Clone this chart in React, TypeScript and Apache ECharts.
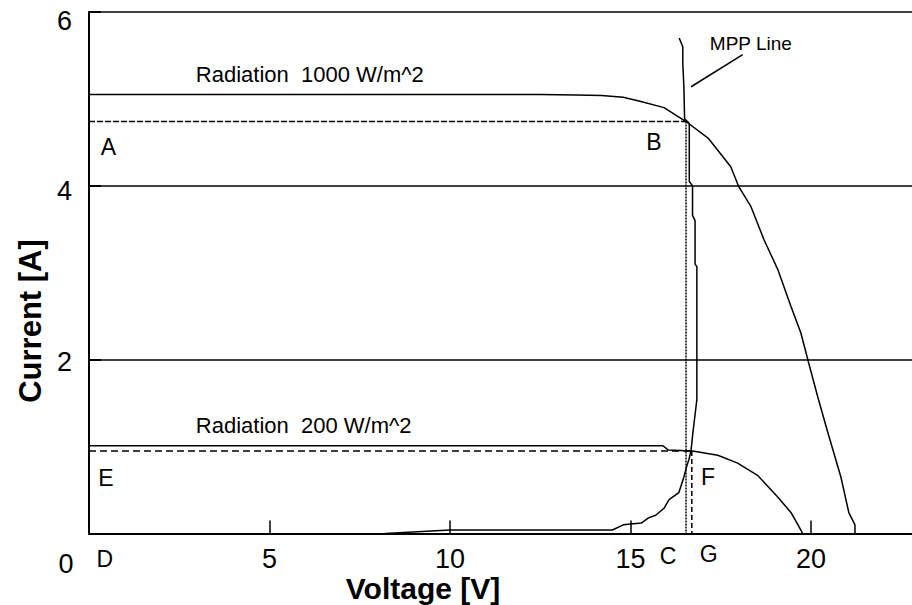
import React, { useEffect, useRef } from "react";
import * as echarts from "echarts";

// I-V curve at 1000 W/m^2
const V1000 = [0, 12.5, 13.5, 14.2, 14.8, 15.29, 15.93, 16.54, 17.15, 17.78, 18.0, 18.34, 18.7, 19.09, 19.45, 19.72, 19.92, 20.19, 20.47, 20.83, 21.05, 21.22, 21.22];
const I1000 = [5.05, 5.05, 5.045, 5.04, 5.02, 4.97, 4.9, 4.74, 4.55, 4.22, 3.99, 3.76, 3.38, 3.03, 2.61, 2.31, 1.99, 1.57, 1.16, 0.65, 0.24, 0.1, 0];

// I-V curve at 200 W/m^2
const V200 = [0, 15.9, 16.05, 16.72, 17.42, 17.97, 18.52, 19.08, 19.45, 19.68, 19.77];
const I200 = [1.01, 1.01, 0.96, 0.95, 0.9, 0.81, 0.67, 0.42, 0.24, 0.07, 0];

// MPP line
const VMPP = [8.2, 10.0, 14.5, 14.8, 15.3, 15.5, 15.7, 15.93, 16.07, 16.34, 16.48, 16.57, 16.62, 16.68, 16.73, 16.84, 16.84, 16.79, 16.79, 16.72, 16.72, 16.63, 16.63, 16.5, 16.48, 16.45, 16.45, 16.35];
const IMPP = [0, 0.04, 0.04, 0.1, 0.12, 0.18, 0.21, 0.29, 0.39, 0.47, 0.65, 0.79, 0.85, 0.96, 1.16, 1.54, 3.07, 3.1, 3.6, 3.66, 4.0, 4.05, 4.72, 4.77, 5.14, 5.41, 5.6, 5.7];

// Operating points
const POINT_B = [16.54, 4.74];
const POINT_F = [16.7, 0.95];

// Leader line for the MPP label
const LEADER_V = [16.68, 18.11];
const LEADER_I = [5.14, 5.51];

// Axis settings
const X_MAX = 22.8;
const Y_MAX = 6;

// Annotation texts (data coordinates)
const LETTERS = ["A", "B", "E", "F", "D", "C", "G", "0"];
const LETTER_V = [0.54, 15.65, 0.47, 17.15, 0.44, 16.04, 17.17, -0.64];
const LETTER_I = [4.45, 4.5, 0.64, 0.65, -0.29, -0.26, -0.24, -0.35];

const NOTES = ["Radiation  1000 W/m^2", "Radiation  200 W/m^2", "MPP Line"];
const NOTE_V = [2.96, 2.96, 17.2];
const NOTE_I = [5.28, 1.24, 5.64];
const NOTE_SIZE = [22, 22, 19];

const FONT = "'Liberation Sans', Arial, Helvetica, sans-serif";

const zip = (a: number[], b: number[]) => a.map((v, k) => [v, b[k]]);

export default function App() {
  const ref = useRef<HTMLDivElement>(null);

  useEffect(() => {
    const chart = echarts.init(ref.current!, null, { renderer: "svg" });

    const lineSeries = (data: number[][], type: any = "solid", width = 1.5) => ({
      type: "line",
      data,
      symbol: "none",
      silent: true,
      clip: false,
      lineStyle: { color: "#000", width, type },
    });

    chart.setOption({
      animation: false,
      backgroundColor: "#fff",
      grid: { left: 89, top: 12, right: 0, bottom: 71.5, containLabel: false },
      xAxis: {
        type: "value",
        min: 0,
        max: X_MAX,
        interval: 5,
        axisLine: { show: true, lineStyle: { color: "#000", width: 2 } },
        axisTick: { show: true, inside: true, length: 13, lineStyle: { color: "#000", width: 1.5 } },
        splitLine: { show: false },
        axisLabel: {
          show: true,
          showMinLabel: false,
          showMaxLabel: false,
          color: "#000",
          fontSize: 27,
          fontFamily: FONT,
          margin: 12,
        },
      },
      yAxis: {
        type: "value",
        min: 0,
        max: Y_MAX,
        interval: 2,
        axisLine: { show: true, lineStyle: { color: "#000", width: 2 } },
        axisTick: { show: true, inside: true, length: 12, lineStyle: { color: "#000", width: 2 } },
        splitLine: { show: true, lineStyle: { color: "#000", width: 1.5 } },
        axisLabel: {
          show: true,
          showMinLabel: false,
          color: "#000",
          fontSize: 27,
          fontFamily: FONT,
          margin: 17,
          formatter: (v: number) => `{l${v}|${v}}`,
          rich: {
            l2: { fontSize: 27, fontFamily: FONT, color: "#000", padding: [4, 0, 0, 0] },
            l4: { fontSize: 27, fontFamily: FONT, color: "#000", padding: [10, 0, 0, 0] },
            l6: { fontSize: 27, fontFamily: FONT, color: "#000", padding: [18, 0, 0, 0] },
          },
        },
      },
      series: [
        lineSeries(zip(V1000, I1000)),
        lineSeries(zip(V200, I200)),
        lineSeries(zip(VMPP, IMPP)),
        lineSeries([[0, POINT_B[1]], POINT_B], [6, 2]),
        lineSeries([POINT_B, [POINT_B[0], 0]], [2, 1]),
        lineSeries([[0, POINT_F[1]], POINT_F], [7, 4]),
        lineSeries([POINT_F, [POINT_F[0], 0]], [5, 3]),
        lineSeries(zip(LEADER_V, LEADER_I)),
      ],
    });

    const graphics: any[] = [];
    LETTERS.forEach((t, k) => {
      const p = chart.convertToPixel({ gridIndex: 0 }, [LETTER_V[k], LETTER_I[k]]) as number[];
      graphics.push({
        type: "text",
        x: p[0],
        y: p[1],
        style: {
          text: t,
          fontSize: t === "0" ? 27 : 23,
          fontFamily: FONT,
          fill: "#000",
          align: "center",
          verticalAlign: "middle",
        },
      });
    });
    NOTES.forEach((t, k) => {
      const p = chart.convertToPixel({ gridIndex: 0 }, [NOTE_V[k], NOTE_I[k]]) as number[];
      graphics.push({
        type: "text",
        x: p[0],
        y: p[1],
        style: {
          text: t,
          fontSize: NOTE_SIZE[k],
          fontFamily: FONT,
          fill: "#000",
          align: "left",
          verticalAlign: "middle",
        },
      });
    });
    graphics.push({
      type: "text",
      x: 423,
      y: 603,
      style: {
        text: "Voltage [V]",
        fontSize: 30,
        fontWeight: "bold",
        fontFamily: FONT,
        fill: "#000",
        align: "center",
        verticalAlign: "bottom",
      },
    });
    graphics.push({
      type: "text",
      x: 30,
      y: 321,
      rotation: Math.PI / 2,
      style: {
        text: "Current [A]",
        fontSize: 31,
        fontWeight: "bold",
        fontFamily: FONT,
        fill: "#000",
        align: "center",
        verticalAlign: "middle",
      },
    });
    chart.setOption({ graphic: graphics });

    return () => chart.dispose();
  }, []);

  return (
    <div
      ref={ref}
      style={{ position: "absolute", left: 0, top: 0, width: 912, height: 605, background: "#fff" }}
    />
  );
}
